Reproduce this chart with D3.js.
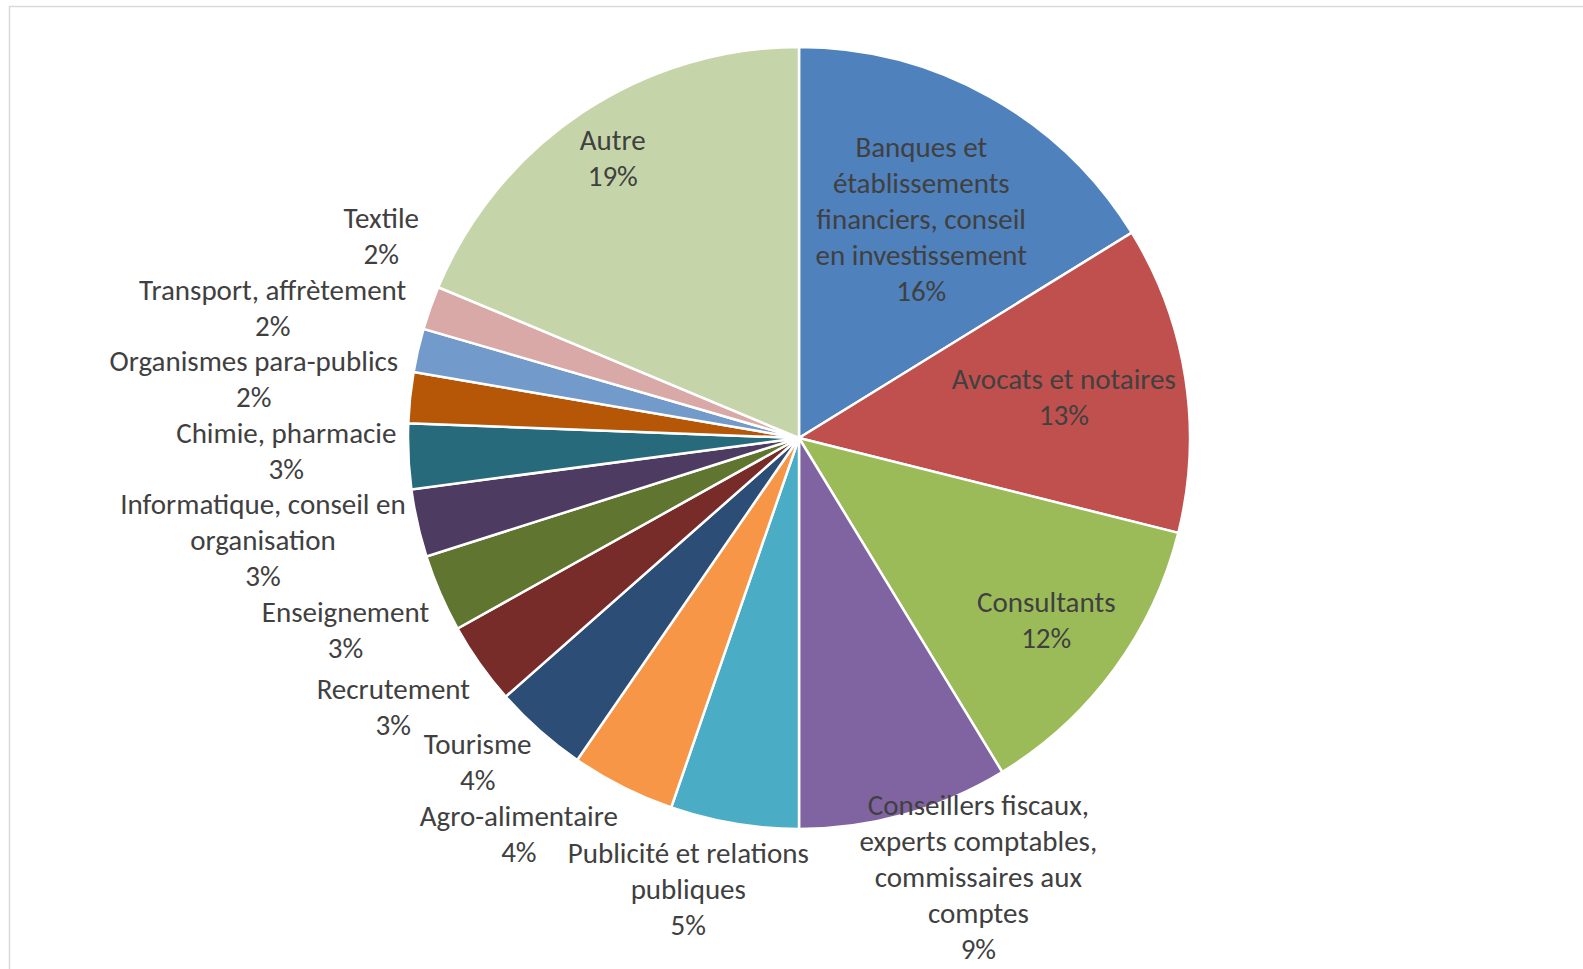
<!DOCTYPE html>
<html>
<head>
<meta charset="utf-8">
<script src="https://cdn.jsdelivr.net/npm/d3@7"></script>
<style>
  html, body { margin: 0; padding: 0; background: #fff; overflow: hidden; }
  svg { display: block; }
  text { font-family: Carlito, Calibri, Lato, sans-serif; font-size: 29px; fill: #404040; }
</style>
</head>
<body>
<svg id="chart" width="1583" height="969"></svg>
<script>
// sectors, clockwise from 12 o'clock (line breaks as in the original labels)
const categories = [
  "Banques et\nétablissements\nfinanciers, conseil\nen investissement",
  "Avocats et notaires",
  "Consultants",
  "Conseillers fiscaux,\nexperts comptables,\ncommissaires aux\ncomptes",
  "Publicité et relations\npubliques",
  "Agro-alimentaire",
  "Tourisme",
  "Recrutement",
  "Enseignement",
  "Informatique, conseil en\norganisation",
  "Chimie, pharmacie",
  "Organismes para-publics",
  "Transport, affrètement",
  "Textile",
  "Autre"
];
const values = [16.2, 12.7, 12.4, 8.7, 5.3, 4.3, 3.9, 3.4, 3.2, 2.8, 2.7, 2.1, 1.8, 1.8, 18.7];
const colors = [
  "#4f81bd", "#c0504d", "#9bbb59", "#8064a2", "#4bacc6", "#f79646", "#2c4d75",
  "#772c2a", "#5f7530", "#4d3b62", "#276a7c", "#b65708", "#729aca", "#d9a9a8", "#c5d5a9"
];

const cx = 799, cy = 438, R = 391;
const LH = 36;      // line pitch of the labels
const HALF = 17.5;  // half height of one text line, for collisions
const GAP = 12;     // pie edge to outside labels
const K = 2.2;      // how fast the label anchor slides to a box corner

const svg = d3.select("#chart");

// chart area frame
svg.append("rect")
  .attr("x", 9.5).attr("y", 6.5)
  .attr("width", 1600).attr("height", 1000)
  .attr("fill", "none")
  .attr("stroke", "#d9d9d9")
  .attr("stroke-width", 1.5);

const rows = categories.map((c, i) => ({name: c, value: values[i], color: colors[i]}));
const total = d3.sum(values);
const pct = v => Math.round(v / total * 100) + "%";

const pie = d3.pie().sort(null).value(d => d.value);
const arc = d3.arc().innerRadius(0).outerRadius(R);
const arcs = pie(rows);

const g = svg.append("g").attr("transform", `translate(${cx},${cy})`);

g.selectAll("path.slice")
  .data(arcs)
  .join("path")
  .attr("class", "slice")
  .attr("d", arc)
  .attr("fill", d => d.data.color)
  .attr("stroke", "#fff")
  .attr("stroke-width", 2.5);

// measure label lines
const probe = g.append("text");
const labels = arcs.map(a => {
  const lines = a.data.name.split("\n").concat(pct(a.data.value));
  const widths = lines.map(s => probe.text(s).node().getComputedTextLength());
  const mid = (a.startAngle + a.endAngle) / 2;
  return {
    lines, widths,
    w: d3.max(widths), h: lines.length * LH,
    mid, ux: Math.sin(mid), uy: -Math.cos(mid),
    inside: a.data.value / total > 0.1
  };
});
probe.remove();

function fitsInside(L, d, lim) {
  const x = L.ux * d, y = L.uy * d;
  return [[-1, -1], [1, -1], [-1, 1], [1, 1]]
    .every(([sx, sy]) => Math.hypot(x + sx * L.w / 2, y + sy * L.h / 2) <= lim);
}
const clamp1 = v => Math.max(-1, Math.min(1, v));

labels.forEach(L => {
  if (L.inside) {
    let d = R;
    while (d > 0 && !fitsInside(L, d, R - 6)) d -= 1;
    L.x = L.ux * d; L.y = L.uy * d;
  } else {
    // anchor just outside the rim, box hung from the side (or corner) facing the pie
    const p = R + GAP;
    L.x = L.ux * p + clamp1(K * L.ux) * L.w / 2;
    L.y = L.uy * p + clamp1(K * L.uy) * L.h / 2;
  }
});

// outside labels are placed in series order; a label that hits an earlier one
// is moved away from it (up on the left half, down on the right half)
function lineRects(L) {
  const n = L.lines.length;
  return L.lines.map((s, k) => {
    const yc = L.y + (k - (n - 1) / 2) * LH;
    return {x0: L.x - L.widths[k] / 2 - 5, x1: L.x + L.widths[k] / 2 + 5, y0: yc - HALF, y1: yc + HALF};
  });
}
function hits(A, B) {
  const out = [];
  for (const a of lineRects(A)) for (const b of lineRects(B)) {
    if (a.x1 <= b.x0 || b.x1 <= a.x0 || a.y1 <= b.y0 || b.y1 <= a.y0) continue;
    out.push([a, b]);
  }
  return out;
}

const topEdge = 10 - cy, bottomEdge = 966 - cy;
const placed = [];
labels.filter(L => !L.inside).forEach(L => {
  const half = (L.lines.length - 1) / 2 * LH + HALF;
  L.y = Math.max(topEdge + half, Math.min(bottomEdge - half, L.y));
  const up = L.mid > Math.PI;
  for (let guard = 0; guard < 200; guard++) {
    const h = placed.flatMap(P => hits(L, P));
    if (!h.length) break;
    if (up) L.y -= d3.max(h, ([a, b]) => a.y1 - b.y0) + 0.5;
    else L.y += d3.max(h, ([a, b]) => b.y1 - a.y0) + 0.5;
  }
  placed.push(L);
});

const lab = g.selectAll("text.label")
  .data(labels)
  .join("text")
  .attr("class", "label")
  .attr("text-anchor", "middle");

lab.selectAll("tspan")
  .data(L => L.lines.map((s, k) => ({s, k, L})))
  .join("tspan")
  .attr("x", d => d.L.x)
  .attr("y", d => d.L.y + (d.k - (d.L.lines.length - 1) / 2) * LH + 10)
  .text(d => d.s);
</script>
</body>
</html>
